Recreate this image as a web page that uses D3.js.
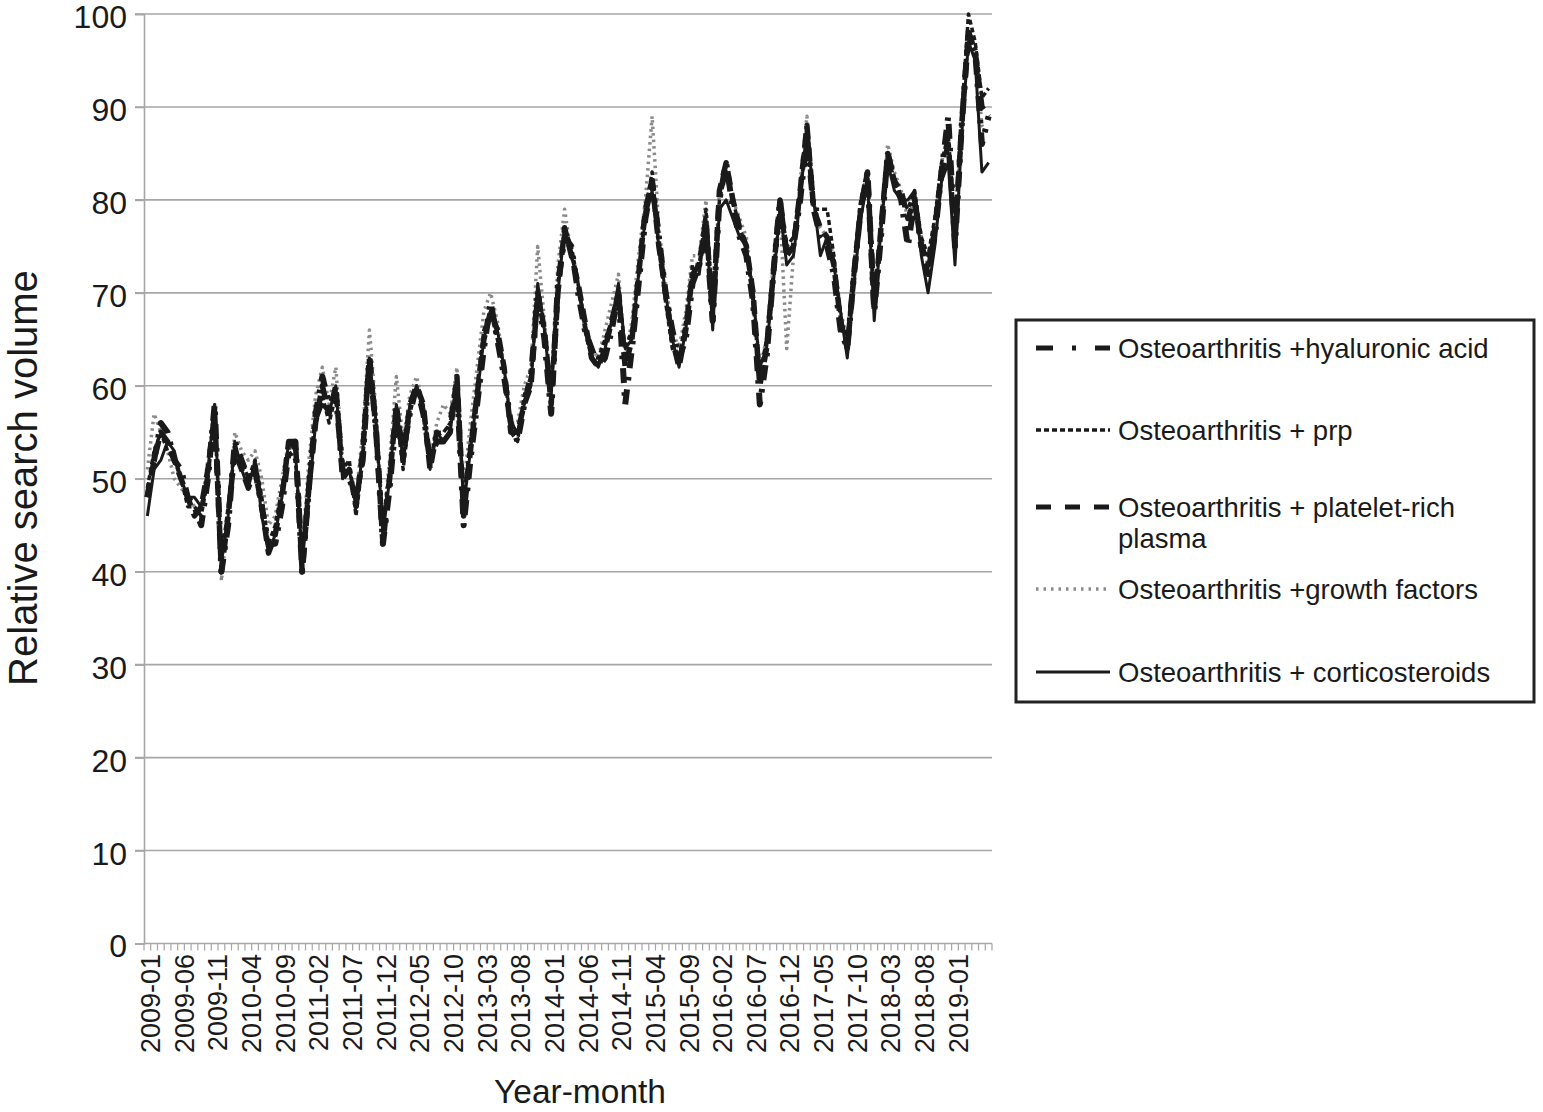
<!DOCTYPE html>
<html><head><meta charset="utf-8">
<script src="https://cdn.jsdelivr.net/npm/d3@7"></script>
<style>
html,body{margin:0;padding:0;background:#fff;}
svg{display:block;font-family:"Liberation Sans",Arial,Helvetica,sans-serif;}
</style></head>
<body>
<svg id="chart" width="1543" height="1112"></svg>
<script>
// ---- data ----
const startYear = 2009, startMonth = 1, monthCount = 126;
const yTicks = [0,10,20,30,40,50,60,70,80,90,100];
const labelEvery = 5, lastLabelIndex = 120;

const seriesNames = [
  "Osteoarthritis +hyaluronic acid",
  "Osteoarthritis + prp",
  ["Osteoarthritis + platelet-rich", "plasma"],
  "Osteoarthritis +growth factors",
  "Osteoarthritis + corticosteroids"
];

const hyaluronic = [
  48,52,56,55,52,51,48,47,45,50,58,40,
  45,54,52,50,51,47,43,43,47,53,54,40,
  49,57,61,58,59,51,50,48,52,63,55,43,
  49,57,53,57,60,57,52,54,54,56,60,45,
  52,58,64,69,65,61,56,54,58,61,70,65,
  57,71,76,75,70,66,64,62,63,66,70,58,
  64,71,78,82,76,70,66,63,65,71,73,77,
  67,80,84,79,76,74,69,58,63,72,80,74,
  75,80,87,79,76,75,72,66,64,72,79,83,
  68,76,85,82,80,75,80,75,73,76,83,89,
  75,88,98,96,86,89
];
const prp = [
  49,53,55,53,52,50,47,47,46,50,57,41,
  47,53,52,50,52,48,43,45,49,53,52,42,
  50,57,59,56,59,51,52,46,52,62,55,45,
  51,57,51,57,60,57,52,55,55,56,60,48,
  54,60,66,68,65,62,55,54,59,61,70,66,
  60,71,77,75,71,66,63,63,65,67,70,64,
  66,72,79,83,75,69,64,63,67,73,73,79,
  67,80,83,80,77,75,69,61,65,72,80,75,
  76,81,87,79,79,79,74,67,65,73,80,83,
  69,77,85,82,80,79,81,76,74,78,84,87,
  77,89,100,97,91,92
];
const plateletRich = [
  48,52,55,54,52,50,48,46,47,51,57,40,
  46,53,51,49,51,47,42,44,48,54,54,40,
  49,56,60,57,60,50,51,47,53,63,55,43,
  50,58,52,58,60,58,51,55,54,55,61,46,
  53,59,65,68,66,62,55,55,58,60,70,66,
  58,70,77,74,71,67,63,62,64,67,70,62,
  65,72,79,82,75,70,65,62,66,72,73,78,
  67,81,84,80,77,75,70,60,64,72,80,74,
  75,81,88,79,77,76,73,67,64,72,79,83,
  68,77,85,82,81,78,80,75,72,77,83,86,
  76,88,98,96,90,89
];
const growthFactors = [
  51,57,55,53,50,49,48,47,47,52,58,39,
  46,55,53,52,53,50,45,46,50,54,52,42,
  52,59,62,58,62,52,51,48,55,66,57,45,
  52,61,54,59,61,58,52,56,58,57,62,49,
  56,62,68,70,67,62,56,56,60,62,75,67,
  60,73,79,74,71,67,64,63,66,69,72,63,
  67,74,80,89,77,71,66,64,68,74,74,80,
  68,81,83,80,78,76,70,62,65,73,79,64,
  74,82,89,80,77,76,74,68,65,73,80,83,
  69,78,86,83,81,78,80,76,73,77,84,87,
  76,88,97,96,88,87
];
const corticosteroids = [
  46,51,52,54,53,50,48,48,47,51,58,41,
  46,54,51,49,52,46,42,44,48,54,53,41,
  48,56,58,57,60,50,51,47,53,63,56,44,
  50,58,52,58,60,58,51,55,54,55,61,47,
  53,59,65,68,66,62,56,55,58,60,71,66,
  59,70,77,74,71,67,63,62,64,67,71,64,
  65,72,78,81,75,70,65,62,66,72,72,78,
  66,79,80,78,76,75,70,62,64,71,79,73,
  74,80,88,80,74,76,73,68,63,71,78,82,
  67,77,84,81,80,80,81,74,70,75,82,84,
  73,87,97,95,83,84
];

// ---- build ----
const months = d3.range(monthCount).map(i => {
  const m = startMonth - 1 + i;
  const y = startYear + Math.floor(m / 12);
  const mm = (m % 12) + 1;
  return y + "-" + String(mm).padStart(2, "0");
});

const styles = [
  {data: hyaluronic, color:"#1a1a1a", width:6, dash:"15,9,3.5,9", legDash:"17,19,4,19"},
  {data: prp, color:"#1a1a1a", width:3.5, dash:"5,3", legDash:"5,3"},
  {data: plateletRich, color:"#1a1a1a", width:5.5, dash:"14,8", legDash:"15,14"},
  {data: growthFactors, color:"#8a8a8a", width:3.5, dash:"2.5,4", legDash:"2.5,5"},
  {data: corticosteroids, color:"#1a1a1a", width:3, dash:null, legDash:null}
];

const svg = d3.select("#chart");
const L = 144, R = 992, T = 14, B = 943.5;

const x = d3.scaleBand().domain(months).range([L, R]).paddingInner(0).paddingOuter(0);
const xc = d => x(d) + x.bandwidth() / 2;
const y = d3.scaleLinear().domain([0, 100]).range([B, T]);

// gridlines
svg.append("g").selectAll("line").data(yTicks.filter(t => t > 0)).join("line")
  .attr("x1", 135).attr("x2", R).attr("y1", d => y(d)).attr("y2", d => y(d))
  .attr("stroke", "#a6a6a6").attr("stroke-width", 1.6);

// y axis
const yAxis = svg.append("g").attr("transform", `translate(${L},0)`)
  .call(d3.axisLeft(y).tickValues(yTicks).tickSize(9).tickPadding(8));
yAxis.select(".domain").attr("stroke", "#a6a6a6").attr("stroke-width", 1.6);
yAxis.selectAll(".tick line").attr("stroke", "#a6a6a6").attr("stroke-width", 1.6);
yAxis.selectAll(".tick text").attr("font-size", 32).attr("fill", "#1a1a1a").attr("dy", "0.42em")
  .attr("font-family", "'Liberation Sans',Arial,sans-serif");

// x axis: month boundary ticks
const xg = svg.append("g");
xg.append("line").attr("x1", L).attr("x2", R).attr("y1", B).attr("y2", B)
  .attr("stroke", "#a6a6a6").attr("stroke-width", 1.6);
xg.selectAll("line.mt").data(months.concat(["end"])).join("line").attr("class", "mt")
  .attr("x1", (d, i) => L + i * x.bandwidth()).attr("x2", (d, i) => L + i * x.bandwidth())
  .attr("y1", B).attr("y2", B + 7)
  .attr("stroke", "#a6a6a6").attr("stroke-width", 1.2);
xg.selectAll("text").data(months.filter((d, i) => i % labelEvery === 0 && i <= lastLabelIndex)).join("text")
  .attr("transform", d => `translate(${xc(d) + 3},954) rotate(-90)`)
  .attr("text-anchor", "end").attr("dy", "0.36em")
  .attr("font-size", 27).attr("fill", "#1a1a1a").text(d => d);

// axis titles
svg.append("text").attr("transform", `translate(37,478) rotate(-90)`)
  .attr("text-anchor", "middle").attr("font-size", 40).attr("fill", "#1a1a1a")
  .text("Relative search volume");
svg.append("text").attr("x", 580).attr("y", 1103).attr("text-anchor", "middle")
  .attr("font-size", 33.5).attr("fill", "#1a1a1a").text("Year-month");

// lines
const line = d3.line().x((d, i) => xc(months[i])).y(d => y(d));
const drawOrder = [3, 0, 1, 2, 4];
drawOrder.forEach(k => {
  const s = styles[k];
  svg.append("path").datum(s.data).attr("d", line)
    .attr("fill", "none").attr("stroke", s.color).attr("stroke-width", s.width)
    .attr("stroke-linejoin", "round").attr("stroke-linecap", "butt")
    .attr("stroke-dasharray", s.dash);
});

// legend
const lg = svg.append("g");
lg.append("rect").attr("x", 1016).attr("y", 320).attr("width", 518).attr("height", 382)
  .attr("fill", "#fff").attr("stroke", "#222").attr("stroke-width", 3);
const legY = [348, 430, 507, 589, 672];
styles.forEach((s, k) => {
  lg.append("line").attr("x1", 1036).attr("x2", 1110).attr("y1", legY[k]).attr("y2", legY[k])
    .attr("stroke", s.color).attr("stroke-width", Math.min(s.width, 5))
    .attr("stroke-dasharray", s.legDash);
  const t = lg.append("text").attr("x", 1118).attr("y", legY[k])
    .attr("font-size", 27.5).attr("fill", "#1a1a1a");
  const nm = seriesNames[k];
  if (Array.isArray(nm)) {
    nm.forEach((part, j) => t.append("tspan").attr("x", 1118).attr("dy", j === 0 ? "0.35em" : "1.15em").text(part));
  } else t.attr("dy", "0.35em").text(nm);
});
</script>
</body></html>
